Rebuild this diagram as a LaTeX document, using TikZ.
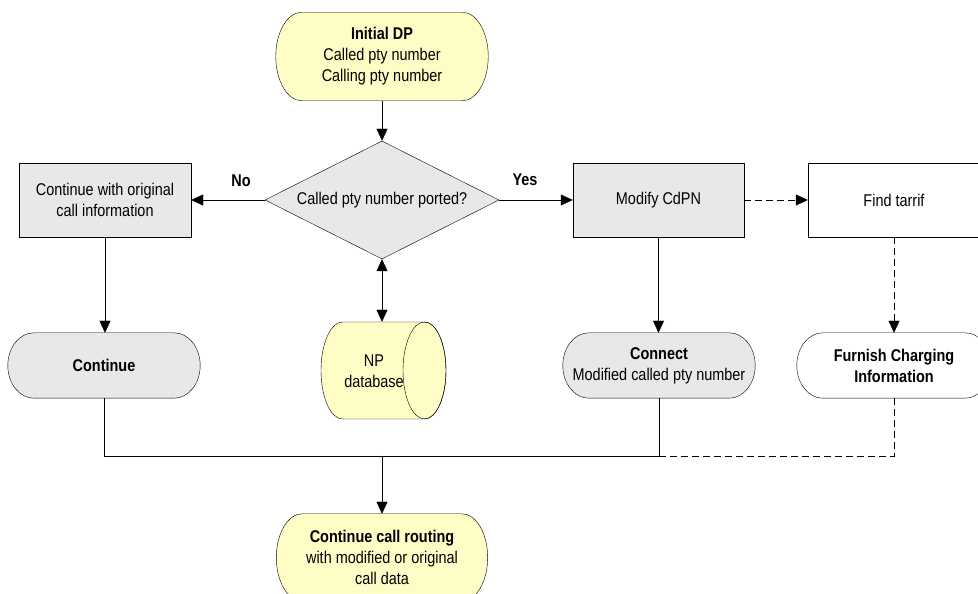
\documentclass[tikz,border=0pt]{standalone}
\usepackage{fontspec}
\setmainfont{Liberation Sans}[FakeStretch=0.85]
\usetikzlibrary{shapes.geometric,arrows.meta,calc,backgrounds}
\definecolor{termyellow}{HTML}{FFFDC6}
\definecolor{boxgray}{HTML}{E8E8E8}

% terminal outline with elliptic ends, drawn behind a named node
\newcommand\termshape[2]{%
  \begin{pgfonlayer}{background}
  \path[draw, fill=#2]
    let \p1=(#1.north west), \p2=(#1.south east), \n1={(\y1-\y2)/2} in
    (\x1+26pt,\y1) -- (\x2-26pt,\y1)
    arc[start angle=90, end angle=-90, x radius=26pt, y radius=\n1]
    -- (\x1+26pt,\y2)
    arc[start angle=270, end angle=90, x radius=26pt, y radius=\n1] -- cycle;
  \end{pgfonlayer}}

\begin{document}
\begin{tikzpicture}[x=1pt, y=1pt, line width=1.5pt,
  every node/.style={font=\fontsize{17}{21}\selectfont, align=center, inner sep=0pt},
  procbox/.style={draw, minimum width=172pt, minimum height=74pt},
  termnode/.style={minimum width=#1},
  decision/.style={shape=diamond, draw, fill=boxgray, aspect=2,
                   minimum width=234pt, minimum height=118pt},
  arr/.style={-{Triangle[length=12pt,width=11pt]}},
  dblarr/.style={{Triangle[length=12pt,width=11pt]}-{Triangle[length=12pt,width=11pt]}},
  dashline/.style={dash pattern=on 7pt off 4pt}]

\useasboundingbox (0,0) rectangle (978,594);

% terminals
\node[termnode=211pt, minimum height=87pt] (init) at (382,537.5)
  {\textbf{Initial DP}\\Called pty number\\Calling pty number};
\termshape{init}{termyellow}

\node[termnode=192pt, minimum height=65pt] (cont) at (104,228.5) {\textbf{Continue}};
\termshape{cont}{boxgray}

\node[termnode=192pt, minimum height=65pt] (connect) at (659,228.5)
  {\textbf{Connect}\\Modified called pty number};
\termshape{connect}{boxgray}

\node[termnode=194pt, minimum height=65pt] (furnish) at (894,228.5)
  {\textbf{Furnish Charging}\\\textbf{Information}};
\termshape{furnish}{white}

\node[termnode=211pt, minimum height=87pt] (route) at (382,36.5)
  {\textbf{Continue call routing}\\with modified or original\\call data};
\termshape{route}{termyellow}

% decision and process boxes
\node[decision] (dia) at (382,394) {Called pty number ported?};
\node[procbox, fill=boxgray] (orig) at (105,394) {Continue with original\\call information};
\node[procbox, fill=boxgray, minimum width=171pt] (modify) at (658.5,394) {Modify CdPN};
\node[procbox, fill=white] (tariff) at (894,394) {Find tarrif};

% NP database cylinder
\node[minimum width=125pt, minimum height=97pt] (npdb) at (383.5,223.5) {};
\begin{pgfonlayer}{background}
  \path[draw, fill=termyellow]
    (424.5,272) -- (342.5,272)
    arc[start angle=90, end angle=270, x radius=21.5, y radius=48.5]
    -- (424.5,175)
    arc[start angle=-90, end angle=90, x radius=21.5, y radius=48.5] -- cycle;
  \draw (424.5,223.5) ellipse[x radius=21.5, y radius=48.5];
\end{pgfonlayer}
\node (nptext) at (374,223) {NP\\database};

% branch labels
\node[font=\fontsize{17}{21}\selectfont\bfseries] (nolbl) at (241,413) {No};
\node[font=\fontsize{17}{21}\selectfont\bfseries] (yeslbl) at (525,414) {Yes};

% connectors
\coordinate (join) at (382,138);
\draw[arr] (init.south) -- (dia.north);
\draw[arr] (dia.west) -- (orig.east);
\draw[arr] (dia.east) -- (modify.west);
\draw[dblarr] (dia.south) -- (dia.south |- npdb.north);
\draw[arr] (orig.south) -- (orig.south |- cont.north);
\draw[arr] (modify.south) -- (modify.south |- connect.north);
\draw[arr, dashline] (modify.east) -- (tariff.west);
\draw[arr, dashline] (tariff.south) -- (furnish.north);
\draw (cont.south) |- (join);
\draw (connect.south) |- (join);
\draw[dashline] (furnish.south) |- (connect.south |- join);
\draw[arr] (join) -- (route.north);
\end{tikzpicture}
\end{document}
